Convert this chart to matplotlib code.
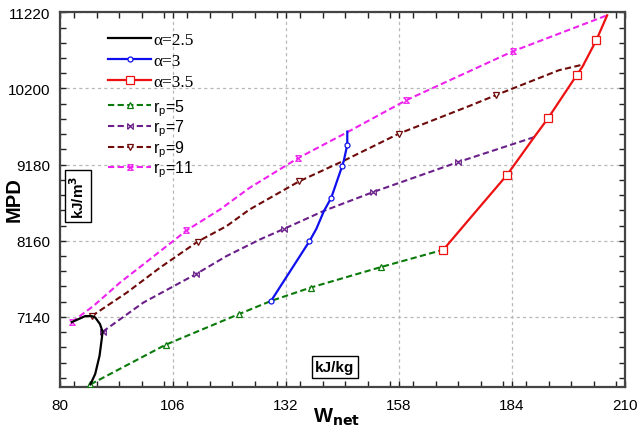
import matplotlib
matplotlib.use('Agg')
import matplotlib.pyplot as plt
from matplotlib.lines import Line2D
from matplotlib.ticker import MultipleLocator

plt.rcParams['font.family'] = ['Liberation Sans', 'DejaVu Sans']

# ---- data ----
xticks = [80, 106, 132, 158, 184, 210]
yticks = [7140, 8160, 9180, 10200, 11220]

a25_x = [87.0, 88.1, 89.1, 89.6, 89.8, 89.2, 88.1, 87.3, 85.8, 82.7]
a25_y = [6235, 6375, 6619, 6842, 6940, 7043, 7132, 7150, 7150, 7069]

a3_x = [128.5, 137.4, 139.0, 140.7, 142.4, 144.9, 145.3, 146.1, 146.1]
a3_y = [7348, 8154, 8321, 8555, 8734, 9156, 9232, 9446, 9623]
a3_mk = [0, 1, 4, 5, 7]

a35_x = [168.2, 174.1, 182.9, 189.1, 192.3, 198.9, 200.2, 203.4, 205.9]
a35_y = [8039, 8444, 9045, 9548, 9802, 10380, 10491, 10847, 11181]
a35_mk = [0, 2, 4, 5, 7]

rp5_x = [87.0, 104.3, 121.3, 128.6, 137.7, 153.9, 168.2]
rp5_y = [6235, 6766, 7180, 7354, 7533, 7808, 8039]
rp5_mk = [0, 1, 2, 4, 5]

rp7_x = [89.8, 99.2, 111.2, 118.3, 126.0, 131.5, 140.7, 152.0, 171.6, 189.1]
rp7_y = [6940, 7332, 7710, 7954, 8177, 8318, 8560, 8811, 9214, 9548]
rp7_mk = [0, 2, 5, 7, 8]

rp9_x = [87.3, 95.4, 103.0, 111.7, 118.3, 123.6, 135.1, 145.3, 158.0, 174.2, 180.4, 194.8, 200.6]
rp9_y = [7150, 7466, 7799, 8149, 8355, 8578, 8958, 9232, 9596, 9966, 10113, 10445, 10524]
rp9_mk = [0, 3, 6, 8, 10]

rp11_x = [82.7, 87.7, 93.8, 99.2, 106.5, 109.1, 116.8, 123.6, 134.8, 146.1, 159.7, 184.3, 205.9]
rp11_y = [7069, 7286, 7599, 7844, 8177, 8298, 8578, 8868, 9268, 9614, 10044, 10701, 11181]
rp11_mk = [0, 5, 8, 10, 11]

alpha_labels = ['α=2.5', 'α=3', 'α=3.5']
rp_labels = [r'r$_\mathregular{p}$=5', r'r$_\mathregular{p}$=7',
             r'r$_\mathregular{p}$=9', r'r$_\mathregular{p}$=11']

# ---- styles ----
bowtie = [(-1, -1), (-1, 1), (1, -1), (1, 1), (-1, -1)]
hourglass = [(-1, 1), (1, 1), (-1, -1), (1, -1), (-1, 1)]

series = [
    (a25_x, a25_y, None, dict(color='black', ls='-', lw=1.6, marker=None)),
    (a3_x, a3_y, a3_mk, dict(color='#1010ee', ls='-', lw=1.6, marker='o', ms=3.6)),
    (a35_x, a35_y, a35_mk, dict(color='#ee1111', ls='-', lw=1.6, marker='s', ms=5.2)),
    (rp5_x, rp5_y, rp5_mk, dict(color='#0a7a0a', ls=(0, (3.0, 1.6)), lw=1.5, marker='^', ms=4.3)),
    (rp7_x, rp7_y, rp7_mk, dict(color='#6a1f8a', ls=(0, (3.0, 1.6)), lw=1.5, marker=bowtie, ms=4.0)),
    (rp9_x, rp9_y, rp9_mk, dict(color='#6e0a0a', ls=(0, (3.0, 1.6)), lw=1.5, marker='v', ms=4.3)),
    (rp11_x, rp11_y, rp11_mk, dict(color='#ee22ee', ls=(0, (3.0, 1.6)), lw=1.5, marker=hourglass, ms=4.0)),
]

fig = plt.figure(figsize=(6.4, 4.35), dpi=100)
fig.patch.set_facecolor('white')
ax = fig.add_axes([60/640, 1-388/435, 565/640, 375/435])

handles = []
order = [3, 4, 5, 6, 0, 1, 2]
for i in order:
    xs, ys, mk, st = series[i]
    kw = dict(color=st['color'], linestyle=st['ls'], linewidth=st['lw'])
    if st['marker'] is not None:
        kw.update(marker=st['marker'], markersize=st['ms'], markerfacecolor='white',
                  markeredgecolor=st['color'], markeredgewidth=0.9, markevery=mk)
    ax.plot(xs, ys, zorder=3 + (1 if i < 3 else 0), **kw)

for i in range(7):
    xs, ys, mk, st = series[i]
    kw = dict(color=st['color'], linestyle=st['ls'], linewidth=st['lw'])
    if st['marker'] is not None:
        kw.update(marker=st['marker'], markersize=st['ms'], markerfacecolor='white',
                  markeredgecolor=st['color'], markeredgewidth=0.9)
    handles.append(Line2D([], [], **kw))

ax.set_xlim(80, 210)
ax.set_ylim(6200, 11225)
ax.set_xticks(xticks)
ax.set_yticks(yticks)
ax.set_xticklabels([str(v) for v in xticks])
ax.set_yticklabels([str(v) for v in yticks])
ax.xaxis.set_minor_locator(MultipleLocator(5.2))
ax.yaxis.set_minor_locator(MultipleLocator(204))
ax.tick_params(which='both', direction='in', top=True, right=True, length=4,
               width=1.0, color='#222222')
ax.tick_params(axis='both', which='major', labelsize=11, colors='#222222')
ax.tick_params(axis='x', which='major', pad=8)
ax.tick_params(axis='y', which='major', pad=7)
for lab in ax.get_xticklabels() + ax.get_yticklabels():
    lab.set_color('black')
ax.grid(True, which='major', color='#b8b8b8', linestyle=(0, (2.5, 2.5)), linewidth=0.9)
for sp in ax.spines.values():
    sp.set_color('#444444')
    sp.set_linewidth(1.6)

leg1 = ax.legend(handles[:3], alpha_labels, loc='upper left',
                 bbox_to_anchor=(108/640, 1-33/435), bbox_transform=fig.transFigure,
                 frameon=False, fontsize=12.5, handlelength=2.5, handletextpad=0.1,
                 labelspacing=0.27, borderpad=0, borderaxespad=0, numpoints=1,
                 prop={'family': ['Liberation Serif', 'DejaVu Serif'], 'size': 12.5})
ax.add_artist(leg1)
leg2 = ax.legend(handles[3:], rp_labels, loc='upper left',
                 bbox_to_anchor=(108/640, 1-98/435), bbox_transform=fig.transFigure,
                 frameon=False, fontsize=11.5, handlelength=2.7, handletextpad=0.1,
                 labelspacing=0.0, borderpad=0, borderaxespad=0, numpoints=1)

fig.text(14/640, 1-200/435, 'MPD', rotation=90, fontsize=14.5, fontweight='bold',
         ha='center', va='center')
fig.text(337/640, 1-417/435, r'W$_\mathbf{net}$', fontsize=14.5, fontweight='bold',
         ha='center', va='center')
ax.text(78/640, 1-197/435, r'kJ/m$^\mathbf{3}$', transform=fig.transFigure, rotation=90,
        fontsize=11, fontweight='bold', ha='center', va='center',
        bbox=dict(boxstyle='square,pad=0.25', fc='white', ec='black', lw=1.0), zorder=10)
ax.text(335/640, 1-368/435, 'kJ/kg', transform=fig.transFigure,
        fontsize=11, fontweight='bold', ha='center', va='center',
        bbox=dict(boxstyle='square,pad=0.25', fc='white', ec='black', lw=1.0), zorder=10)

fig.savefig('out.png', dpi=100, facecolor='white')
